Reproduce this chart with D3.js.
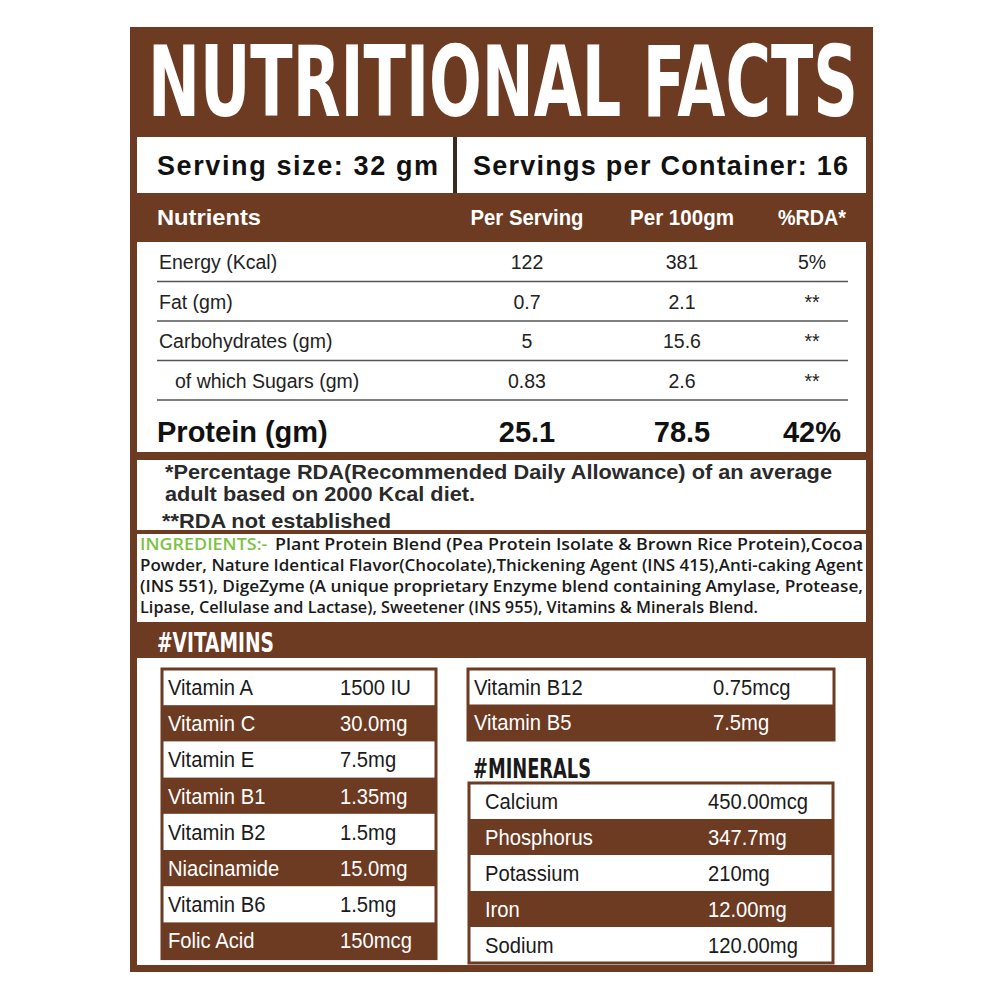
<!DOCTYPE html>
<html><head><meta charset="utf-8">
<script src="https://cdn.jsdelivr.net/npm/d3@7"></script>
<style>body{margin:0;background:#fff}</style>
</head><body><div id="chart"></div>
<script>
const nutrients = ['Energy (Kcal)', 'Fat (gm)', 'Carbohydrates (gm)', '  of which Sugars (gm)'];
const perServing = ['122', '0.7', '5', '0.83'];
const per100 = ['381', '2.1', '15.6', '2.6'];
const rda = ['5%', '**', '**', '**'];
const protein = ['Protein (gm)', '25.1', '78.5', '42%'];
const vitNames = ['Vitamin A', 'Vitamin C', 'Vitamin E', 'Vitamin B1', 'Vitamin B2', 'Niacinamide', 'Vitamin B6', 'Folic Acid'];
const vitValues = ['1500 IU', '30.0mg', '7.5mg', '1.35mg', '1.5mg', '15.0mg', '1.5mg', '150mcg'];
const vit2Names = ['Vitamin B12', 'Vitamin B5'];
const vit2Values = ['0.75mcg', '7.5mg'];
const minNames = ['Calcium', 'Phosphorus', 'Potassium', 'Iron', 'Sodium'];
const minValues = ['450.00mcg', '347.7mg', '210mg', '12.00mg', '120.00mg'];
const ingredientLines = [
    ['INGREDIENTS:- ', 'Plant Protein Blend (Pea Protein Isolate & Brown Rice Protein),Cocoa'],
    ['', 'Powder,  Nature Identical Flavor(Chocolate),Thickening Agent (INS 415),Anti-caking Agent'],
    ['', '(INS 551), DigeZyme (A unique proprietary Enzyme blend containing Amylase, Protease,'],
    ['', 'Lipase, Cellulase and Lactase), Sweetener (INS 955), Vitamins & Minerals Blend.']
];

const brown = '#6d3a22';
const sans = 'Liberation Sans, Arial, sans-serif';
const narrow = 'Liberation Sans Narrow, Arial Narrow, sans-serif';

const svg = d3.select('#chart').append('svg')
    .attr('width', 1000).attr('height', 1000);

// frame
svg.append('rect').attr('x', 130).attr('y', 27).attr('width', 743).attr('height', 945).attr('fill', brown);

// title
svg.append('text')
    .attr('x', 148).attr('y', 116)
    .attr('textLength', 710).attr('lengthAdjust', 'spacingAndGlyphs')
    .attr('font-family', 'DejaVu Sans Condensed, DejaVu Sans')
    .attr('font-weight', 900)
    .attr('font-size', 98).attr('fill', '#fff')
    .text('NUTRITIONAL FACTS');

// serving row
svg.append('rect').attr('x', 137).attr('y', 137).attr('width', 729).attr('height', 56).attr('fill', '#fff');
svg.append('rect').attr('x', 453).attr('y', 137).attr('width', 4).attr('height', 56).attr('fill', '#3a2a22');
svg.append('text').attr('x', 157).attr('y', 175).attr('font-family', sans).attr('font-weight', 'bold')
    .attr('font-size', 27).attr('fill', '#111').attr('textLength', 281).text('Serving size: 32 gm');
svg.append('text').attr('x', 473).attr('y', 175).attr('font-family', sans).attr('font-weight', 'bold')
    .attr('font-size', 27).attr('fill', '#111').attr('textLength', 375).text('Servings per Container: 16');

// header
const colX = [157, 527, 682, 812];
const headers = ['Nutrients', 'Per Serving', 'Per 100gm', '%RDA*'];
svg.selectAll('.hdr').data(headers).enter().append('text')
    .attr('class', 'hdr')
    .attr('x', (d, i) => colX[i]).attr('y', 225)
    .attr('text-anchor', (d, i) => i ? 'middle' : 'start')
    .attr('font-family', sans)
    .attr('font-weight', 'bold').attr('font-size', (d, i) => i ? 22 : 22)
    .attr('textLength', (d, i) => [104, 113, 104, 68][i]).attr('lengthAdjust', 'spacingAndGlyphs')
    .attr('fill', '#fff').text(d => d);

// nutrient table
svg.append('rect').attr('x', 137).attr('y', 242).attr('width', 729).attr('height', 210).attr('fill', '#fff');
const yN = d3.scaleBand().domain(d3.range(nutrients.length)).range([242, 400]);
const rows = svg.selectAll('.nrow').data(nutrients).enter().append('g')
    .attr('transform', (d, i) => `translate(0,${yN(i)})`);
rows.append('line').attr('x1', 157).attr('x2', 848)
    .attr('y1', yN.bandwidth()).attr('y2', yN.bandwidth())
    .attr('stroke', '#555').attr('stroke-width', 1.5);
rows.each(function(d, i) {
    const cells = [d, perServing[i], per100[i], rda[i]];
    d3.select(this).selectAll('text').data(cells).enter().append('text')
        .attr('x', (c, j) => colX[j] + (j === 0 ? (i === 3 ? 18 : 2) : 0))
        .attr('y', 27)
        .attr('text-anchor', (c, j) => j ? 'middle' : 'start')
        .attr('font-family', sans).attr('font-size', 19.5).attr('fill', '#222')
        .text(c => c.trim());
});
svg.selectAll('.prot').data(protein).enter().append('text')
    .attr('x', (d, i) => colX[i]).attr('y', 442)
    .attr('text-anchor', (d, i) => i ? 'middle' : 'start')
    .attr('font-family', sans).attr('font-weight', 'bold').attr('font-size', 29).attr('fill', '#111')
    .text(d => d);

// footnote
svg.append('rect').attr('x', 137).attr('y', 460).attr('width', 729).attr('height', 70).attr('fill', '#fff');
const notes = [['*Percentage RDA(Recommended Daily Allowance) of an average', 479, 667],
    ['adult based on 2000 Kcal diet.', 501, 310], ['**RDA not established', 528, 229]];
svg.selectAll('.note').data(notes).enter().append('text')
    .attr('x', (d, i) => i === 2 ? 162 : 165).attr('y', d => d[1])
    .attr('textLength', d => d[2]).attr('lengthAdjust', 'spacingAndGlyphs')
    .attr('font-family', sans).attr('font-weight', 'bold').attr('font-size', 20.5).attr('fill', '#2a2a2a')
    .text(d => d[0]);

// ingredients
svg.append('rect').attr('x', 137).attr('y', 534).attr('width', 729).attr('height', 88).attr('fill', '#fff');
const ing = svg.selectAll('.ing').data(ingredientLines).enter().append('text')
    .attr('y', (d, i) => 550 + i * 21)
    .attr('font-family', 'Open Sans, sans-serif').attr('font-weight', 600).attr('font-size', 15.5).attr('fill', '#1a1a1a');
ing.each(function(d, i) {
    const t = d3.select(this);
    if (d[0]) {
        t.append('tspan').attr('x', 140).attr('fill', '#7dc242')
            .attr('textLength', 132).attr('lengthAdjust', 'spacingAndGlyphs').text(d[0]);
        t.append('tspan').attr('x', 275).attr('textLength', 588).attr('lengthAdjust', 'spacingAndGlyphs').text(d[1]);
    } else {
        t.append('tspan').attr('x', 140)
            .attr('textLength', i === 3 ? 618 : 723).attr('lengthAdjust', 'spacingAndGlyphs').text(d[1]);
    }
});

// vitamins header
svg.append('text').attr('x', 157).attr('y', 652)
    .attr('font-family', 'DejaVu Sans Condensed').attr('font-weight', 'bold')
    .attr('font-size', 27).attr('fill', '#fff')
    .attr('textLength', 117).attr('lengthAdjust', 'spacingAndGlyphs').text('#VITAMINS');

svg.append('rect').attr('x', 137).attr('y', 658).attr('width', 729).attr('height', 307).attr('fill', '#fff');

function table(names, values, x0, x1, y0, rowH, labelX, valueX) {
    const y = d3.scaleBand().domain(d3.range(names.length)).range([y0, y0 + rowH * names.length]);
    const g = svg.append('g');
    g.append('rect').attr('x', x0).attr('y', y0).attr('width', x1 - x0).attr('height', rowH * names.length)
        .attr('fill', '#fff').attr('stroke', brown).attr('stroke-width', 3);
    const r = g.selectAll('g').data(names).enter().append('g')
        .attr('transform', (d, i) => `translate(0,${y(i)})`);
    r.filter((d, i) => i % 2 === 1)
        .append('rect').attr('x', x0).attr('width', x1 - x0).attr('height', y.bandwidth()).attr('fill', brown);
    const fs = 22;
    r.append('text').attr('x', labelX).attr('y', y.bandwidth() * 0.72)
        .attr('font-family', narrow).attr('font-size', fs)
        .attr('transform', `translate(${labelX},0) scale(0.92,1) translate(${-labelX},0)`)
        .attr('fill', (d, i) => i % 2 === 1 ? '#fff' : '#1a1a1a').text(d => d);
    r.append('text').attr('x', valueX).attr('y', y.bandwidth() * 0.72)
        .attr('font-family', narrow).attr('font-size', fs)
        .attr('transform', `translate(${valueX},0) scale(0.92,1) translate(${-valueX},0)`)
        .attr('fill', (d, i) => i % 2 === 1 ? '#fff' : '#1a1a1a').text((d, i) => values[i]);
}
table(vitNames, vitValues, 162, 436, 669, 36.2, 168, 340);
table(vit2Names, vit2Values, 468, 834, 669, 35.5, 474, 713);
table(minNames, minValues, 469, 833, 783, 36, 485, 708);

svg.append('text').attr('x', 473).attr('y', 778)
    .attr('font-family', 'DejaVu Sans Condensed').attr('font-weight', 'bold')
    .attr('font-size', 27).attr('fill', '#1a1a1a')
    .attr('textLength', 118).attr('lengthAdjust', 'spacingAndGlyphs').text('#MINERALS');
</script></body></html>
